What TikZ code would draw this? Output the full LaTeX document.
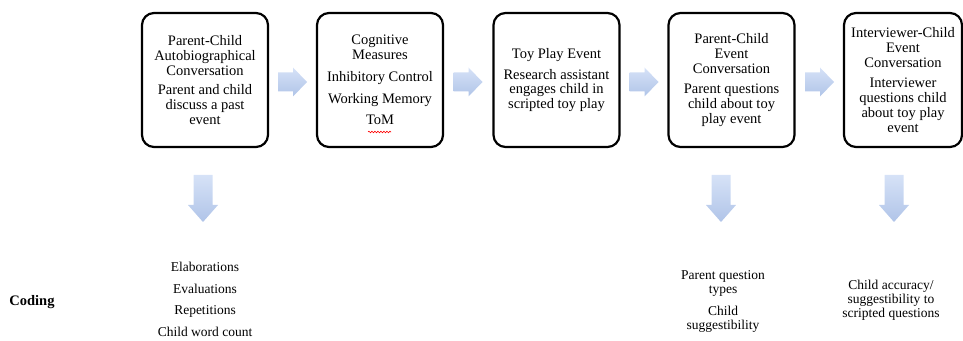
\documentclass[tikz,border=0pt]{standalone}
\usepackage{fontspec}
\setmainfont{Liberation Serif}
\usetikzlibrary{decorations.pathmorphing}
\definecolor{arrowtop}{HTML}{D6E2F7}
\definecolor{arrowbot}{HTML}{B0C4E8}
\begin{document}
\begin{tikzpicture}[x=1pt,y=1pt,
  stagebox/.style={draw=black, line width=2.2pt, rounded corners=12pt,
    minimum width=126pt, minimum height=134pt, inner sep=0pt, align=center,
    font=\fontsize{14.5}{14.8}\selectfont},
  arrowfill/.style={draw=none, top color=arrowtop, bottom color=arrowbot},
  rightblock/.pic={\path[arrowfill] (-14.5,-9.5) -- (0.5,-9.5) -- (0.5,-14.5) -- (14.5,0)
      -- (0.5,14.5) -- (0.5,9.5) -- (-14.5,9.5) -- cycle;},
  downblock/.pic={\path[arrowfill] (-9.5,23.5) -- (9.5,23.5) -- (9.5,-6.5) -- (15,-6.5)
      -- (0,-23.5) -- (-15,-6.5) -- (-9.5,-6.5) -- cycle;},
  codetext/.style={align=center, inner sep=0pt, font=\fontsize{13.5}{14}\selectfont}]
\useasboundingbox (0,0) rectangle (963,340);

% stage boxes
\node[stagebox] (b1) at (205,260) {Parent-Child\\Autobiographical\\Conversation\\[5pt]Parent and child\\discuss a past\\event};
\node[stagebox] (b2) at (380,260) {Cognitive\\Measures\\[7pt]Inhibitory Control\\[7pt]Working Memory\\[7pt]ToM};
\node[stagebox] (b3) at (556.5,260) {Toy Play Event\\[6pt]Research assistant\\engages child in\\scripted toy play};
\node[stagebox] (b4) at (731.5,260) {Parent-Child\\Event\\Conversation\\[6pt]Parent questions\\child about toy\\play event};
\node[stagebox, minimum width=118pt] (b5) at (903,260) {Interviewer-Child\\Event\\Conversation\\[6pt]Interviewer\\questions child\\about toy play\\event};

% spell-check squiggle under ToM
\draw[red, line width=0.6pt, decorate, decoration={snake, amplitude=0.8pt, segment length=3pt}] (368,208) -- (391,208);

% horizontal block arrows
\pic at (292.5,258) {rightblock};
\pic at (468,258) {rightblock};
\pic at (644,258) {rightblock};
\pic at (819.5,258) {rightblock};

% down block arrows
\pic at (203,141.5) {downblock};
\pic at (721,141.5) {downblock};
\pic at (894,141.5) {downblock};

% coding texts
\node[inner sep=0pt, font=\fontsize{14.5}{14.5}\selectfont\bfseries] (coding) at (32,38) {Coding};
\node[codetext] (c1) at (205,40.5) {Elaborations\\[7.5pt]Evaluations\\[7.5pt]Repetitions\\[7.5pt]Child word count};
\node[codetext] (c4) at (723,39) {Parent question\\types\\[8pt]Child\\suggestibility};
\node[codetext] (c5) at (891,40) {Child accuracy/\\suggestibility to\\scripted questions};
\end{tikzpicture}
\end{document}
